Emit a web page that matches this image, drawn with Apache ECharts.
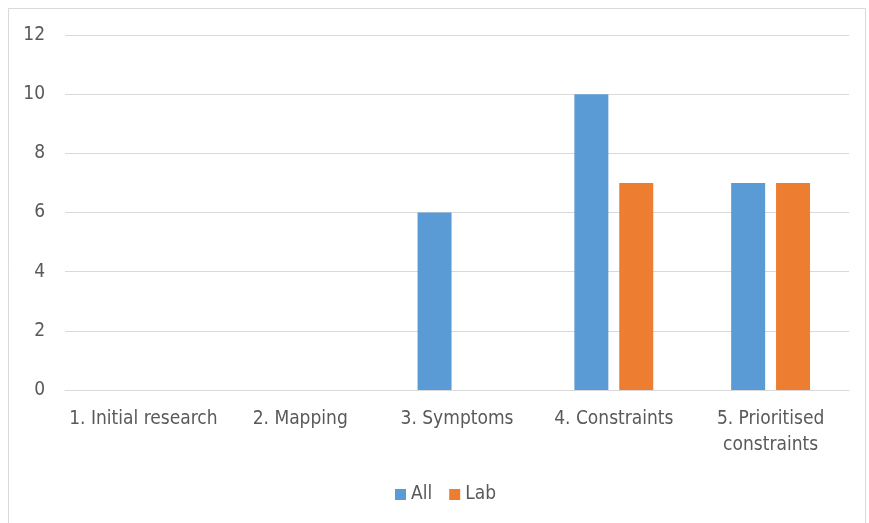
<!DOCTYPE html>
<html>
<head>
<meta charset="utf-8">
<script src="https://cdn.jsdelivr.net/npm/echarts@6/dist/echarts.min.js"></script>
<style>
  html, body { margin: 0; padding: 0; background: #fff; }
  #chart { width: 869px; height: 523px; }
</style>
</head>
<body>
<div id="chart"></div>
<script>
// Stage names along the x axis
const categories = ['1. Initial research', '2. Mapping', '3. Symptoms', '4. Constraints', '5. Prioritised\nconstraints'];
// Counts per stage
const allValues = [0, 0, 6, 10, 7];
const labValues = [0, 0, 0, 7, 7];
const yTicks = { min: 0, max: 12, interval: 2 };

const FONT = '"DejaVu Sans Condensed", "Open Sans", sans-serif';
const TEXT = '#595959';

const chart = echarts.init(document.getElementById('chart'), null, { renderer: 'canvas' });
chart.setOption({
  animation: false,
  backgroundColor: '#fff',
  graphic: [{
    type: 'rect',
    shape: { x: 8.5, y: 8.5, width: 857, height: 520 },
    style: { fill: 'none', stroke: '#d9d9d9', lineWidth: 1 },
    silent: true
  }],
  grid: { left: 65, right: 20, top: 35, bottom: 133, containLabel: false },
  legend: {
    bottom: 14,
    left: 390,
    itemWidth: 11,
    itemHeight: 11,
    itemGap: 17,
    icon: 'rect',
    textStyle: { color: TEXT, fontSize: 19, fontFamily: FONT },
    data: ['All', 'Lab']
  },
  xAxis: {
    type: 'category',
    data: categories,
    axisLine: { show: true, lineStyle: { color: '#d9d9d9', width: 1 } },
    axisTick: { show: false },
    axisLabel: { color: TEXT, fontSize: 19, fontFamily: FONT, margin: 16, lineHeight: 26, interval: 0 }
  },
  yAxis: {
    type: 'value',
    min: yTicks.min, max: yTicks.max, interval: yTicks.interval,
    axisLine: { show: false },
    axisTick: { show: false },
    splitLine: { lineStyle: { color: '#d9d9d9', width: 1 } },
    axisLabel: { color: TEXT, fontSize: 19, fontFamily: FONT, margin: 20 }
  },
  series: [
    {
      name: 'All', type: 'bar', data: allValues,
      barWidth: 34, barGap: '32%',
      itemStyle: { color: '#5b9bd5' }
    },
    {
      name: 'Lab', type: 'bar', data: labValues,
      barWidth: 34,
      itemStyle: { color: '#ed7d31' }
    }
  ]
});
</script>
</body>
</html>
